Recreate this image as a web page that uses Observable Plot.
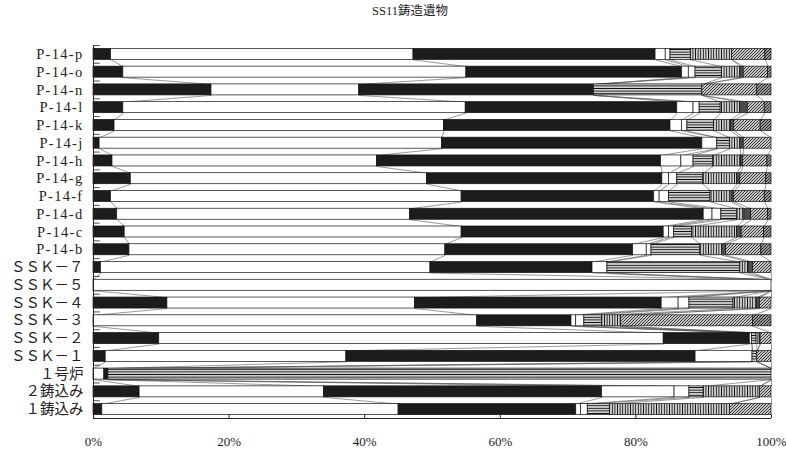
<!DOCTYPE html>
<html><head><meta charset="utf-8">
<script src="https://cdn.jsdelivr.net/npm/d3@7"></script>
<script src="https://cdn.jsdelivr.net/npm/@observablehq/plot@0.6"></script>
<style>
body{margin:0;background:#fff;}
#title{height:30px;line-height:30px;font:12.5px "Liberation Serif","Noto Sans CJK JP",serif;text-align:center;padding-left:34px;width:752px;color:#222;}
</style></head><body>
<div id="title">SS11鋳造遺物</div>
<div id="chart"></div>
<script>
// Samples, top to bottom
const samples = ["P-14-p","P-14-o","P-14-n","P-14-l","P-14-k","P-14-j","P-14-h","P-14-g","P-14-f","P-14-d","P-14-c","P-14-b",
  "ＳＳＫ－７","ＳＳＫ－５","ＳＳＫ－４","ＳＳＫ－３","ＳＳＫ－２","ＳＳＫ－１","１号炉","２鋳込み","１鋳込み"];
const seriesNames = ["c1","c2","c3","c4","c5","c6","c7","c8","c9","c10"];
// Segment percentages (left to right), one value per sample
const c1  = [2.6, 4.4,17.4, 4.4, 3.1, 0.9, 2.8, 5.5, 2.6, 3.5, 4.6, 5.3, 1.1,  0,10.9,   0, 9.7, 1.8,   0, 6.8, 1.3];
const c2  = [44.6,50.6,21.8,50.5,48.6,50.5,39.0,43.7,51.7,43.2,49.7,46.6,48.6,100,36.5,56.6,74.4,35.5, 1.6,27.2,43.7];
const c3  = [35.7,31.8,34.6,31.2,33.4,38.4,41.9,34.7,28.4,43.3,29.8,27.7,23.9,  0,36.4,13.9,12.7,51.5, 0.6,41.0,26.2];
const c4  = [1.5, 1.0,   0, 2.4, 1.7, 2.2, 3.0, 1.0, 0.8, 1.3, 0.8, 2.0, 2.2,  0, 2.5, 0.7, 0.3, 8.4,   0,10.7, 0.7];
const c5  = [0.7, 1.0,   0, 0.9, 0.8,   0, 1.8, 1.2, 1.4, 1.3, 0.7, 0.7,   0,  0, 1.6, 1.2,   0,   0,   0, 2.2, 1.0];
const c6  = [3.0, 3.9,16.0, 3.1, 3.9, 1.9, 2.9, 3.8, 6.1, 2.3, 2.7, 7.2,19.6,  0, 6.5, 2.6, 0.7, 0.7,97.8, 2.1, 3.3];
const c7  = [6.1, 2.7,   0, 2.9, 2.5, 1.5, 4.1, 5.0, 3.1, 1.1, 6.6, 3.2, 1.2,  0, 3.5, 2.8, 0.5,   0,   0, 8.3,17.7];
const c8  = [0,   0.5,   0, 1.1, 0.5, 0.5, 0.3, 0.5, 0.4, 1.0, 0.7, 0.6, 0.7,  0, 0.4,   0, 0.1,   0,   0,   0,   0];
const c9  = [4.9, 3.6, 8.1, 2.5, 3.9, 4.1, 3.6, 3.8, 4.5, 2.5, 3.3, 5.2, 2.7,  0, 1.7,19.5, 1.6, 2.1,   0, 1.7, 6.1];
const c10 = [0.9, 0.5, 2.1, 1.0, 1.6,   0, 0.6, 0.8, 1.0, 0.5, 1.1, 1.5,   0,  0,   0, 2.7,   0,   0,   0,   0,   0];
const xTicks = [0, 20, 40, 60, 80, 100];

const series = [c1,c2,c3,c4,c5,c6,c7,c8,c9,c10];
const fills = ["#1c1c1c","white","#1c1c1c","white","white","url(#pH)","url(#pV)","url(#pVd)","url(#pD)","url(#pD2)"];

// Build table with cumulative positions
const table = [];
const cums = [];
samples.forEach((name, i) => {
  const total = d3.sum(series, s => s[i]);
  let acc = 0;
  const cum = [];
  series.forEach((s, k) => {
    const x1 = acc / total * 100;
    acc += s[i];
    const x2 = acc / total * 100;
    table.push({sample: name, row: i, series: seriesNames[k], x1, x2});
    cum.push(x2);
  });
  cums.push(cum);
});
const h = 0.31;
const links = [];
for (let i = 0; i < samples.length - 1; i++) {
  for (let k = 0; k < series.length - 1; k++) {
    links.push({x1: cums[i][k], y1: i + h, x2: cums[i+1][k], y2: i + 1 - h});
  }
}
const rowEdges = d3.range(samples.length + 1).map(i => i - 0.5);

const chart = Plot.plot({
  width: 786, height: 427,
  marginLeft: 93, marginRight: 15, marginTop: 15, marginBottom: 39,
  x: {domain: [0, 100], label: null},
  y: {domain: [-0.5, samples.length - 0.5], reverse: true, label: null},
  color: {domain: seriesNames, range: fills, type: "ordinal"},
  style: {fontFamily: "'Liberation Serif','Noto Sans CJK JP',serif", fontSize: "14px", color: "#222", background: "white"},
  marks: [
    Plot.link(links, {x1: "x1", y1: "y1", x2: "x2", y2: "y2", stroke: "#555", strokeWidth: 0.6}),
    Plot.rect(table.filter(d => d.x2 - d.x1 > 0.001), {x1: "x1", x2: "x2", y1: d => d.row - h, y2: d => d.row + h, fill: "series", stroke: "#111", strokeWidth: 0.7}),
    Plot.ruleX([0], {y1: -0.5, y2: samples.length - 0.5, stroke: "#222"}),
    Plot.ruleY([samples.length - 0.5], {x1: 0, x2: 100, stroke: "#222"}),
    Plot.ruleY(rowEdges, {y: d => d, x1: 0, x2: 1, stroke: "#222", strokeWidth: 0.8}),
    Plot.ruleX(xTicks, {x: d => d, y1: samples.length - 0.5, y2: samples.length - 0.7, stroke: "#222"}),
    Plot.axisX(xTicks, {tickSize: 0, tickPadding: 18, tickFormat: d => d + "%", fontSize: 13}),
    Plot.axisY(d3.range(samples.length), {tickSize: 0, tickPadding: 10, tickFormat: i => samples[i], fontSize: 14.5})
  ]
});

const defs = d3.select(chart).insert("defs", ":first-child");
function pat(id, w, hh, bg, draw) {
  const p = defs.append("pattern").attr("id", id).attr("patternUnits", "userSpaceOnUse").attr("width", w).attr("height", hh);
  p.append("rect").attr("width", w).attr("height", hh).attr("fill", bg);
  draw(p);
}
pat("pH", 4, 2.6, "white", p => p.append("line").attr("x1", 0).attr("x2", 4).attr("y1", 1.3).attr("y2", 1.3).attr("stroke", "#111").attr("stroke-width", 1.2));
pat("pV", 2.6, 4, "white", p => p.append("line").attr("y1", 0).attr("y2", 4).attr("x1", 1.3).attr("x2", 1.3).attr("stroke", "#111").attr("stroke-width", 1.2));
pat("pVd", 2, 4, "#888", p => p.append("line").attr("y1", 0).attr("y2", 4).attr("x1", 1).attr("x2", 1).attr("stroke", "#111").attr("stroke-width", 1));
pat("pD", 3, 3, "#c8c8c8", p => p.append("path").attr("d", "M-1,1 l2,-2 M0,3 l3,-3 M2,4 l2,-2").attr("stroke", "#333").attr("stroke-width", 1));
pat("pD2", 3, 3, "#999", p => p.append("path").attr("d", "M-1,1 l2,-2 M0,3 l3,-3 M2,4 l2,-2").attr("stroke", "#222").attr("stroke-width", 1));

// wider spacing for the Latin sample labels, as in the original typeface
d3.select(chart).selectAll("text").filter(function() { return this.textContent.startsWith("P-"); })
  .attr("letter-spacing", "1.3px");

document.getElementById("chart").appendChild(chart);
</script>
</body></html>
